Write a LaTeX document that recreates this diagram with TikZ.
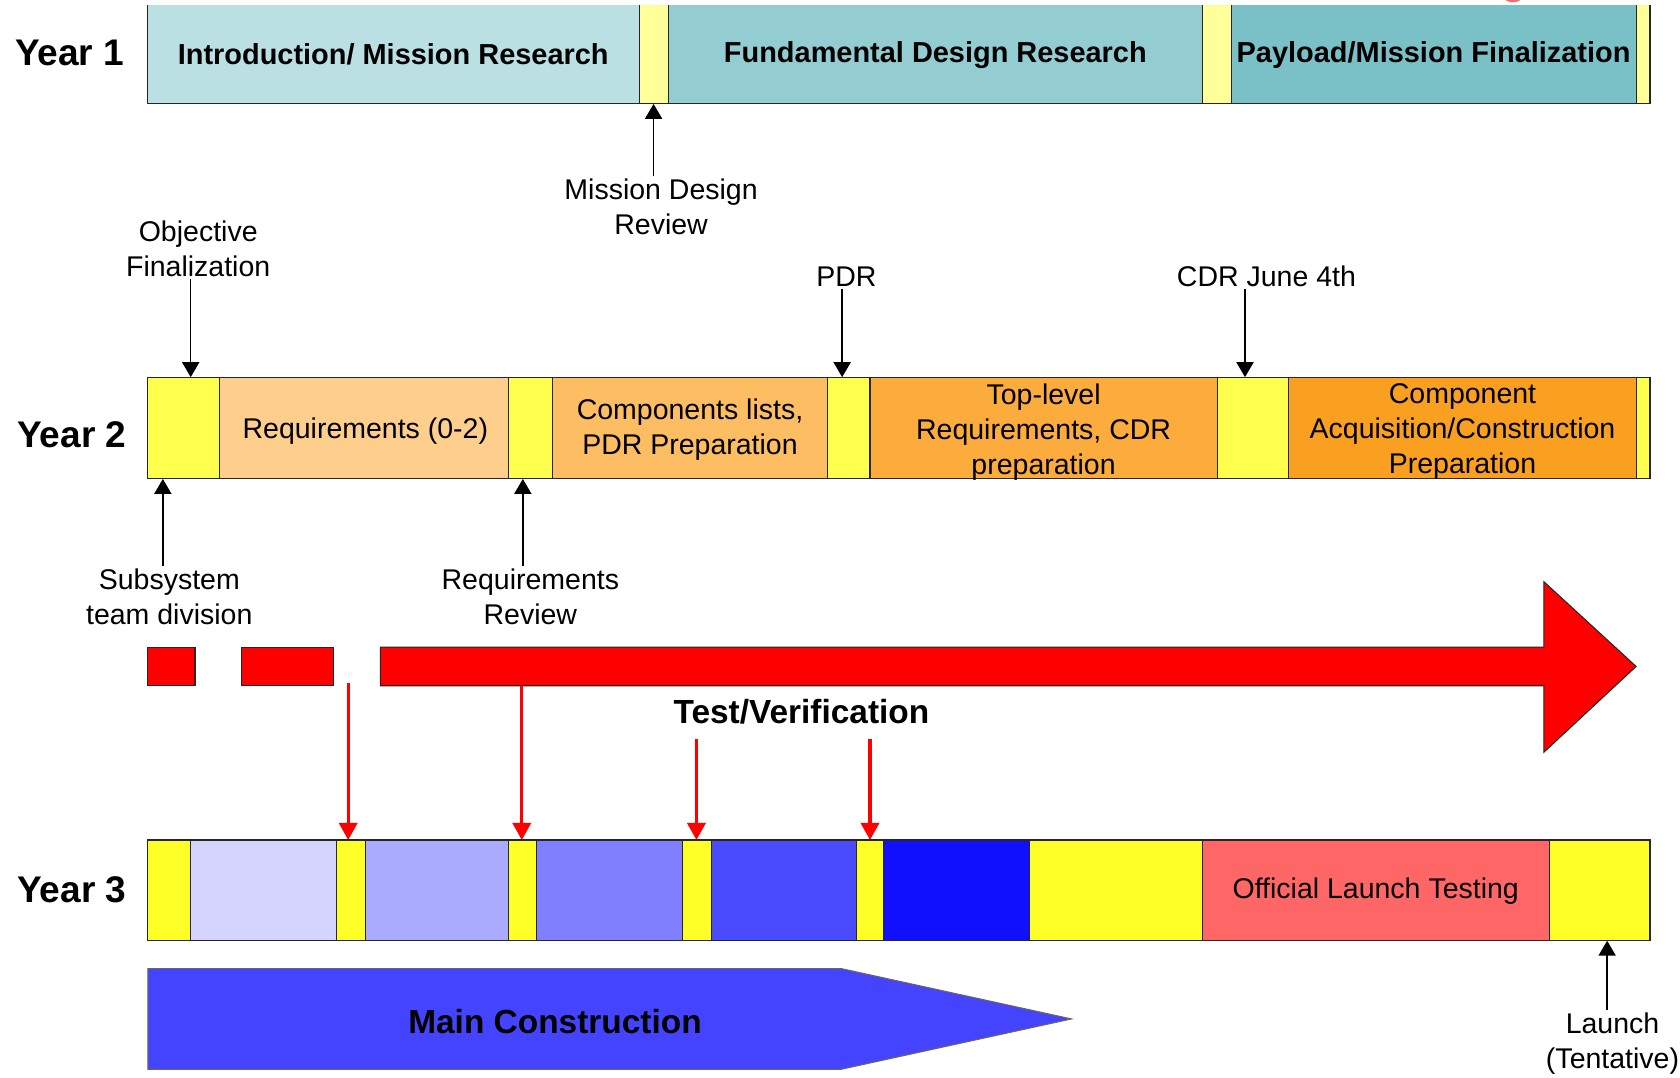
\documentclass[tikz,border=0pt]{standalone}
\usepackage{fontspec}
\setmainfont{Liberation Sans}
\usetikzlibrary{arrows.meta,positioning}
\definecolor{introcol}{RGB}{187,224,227}
\definecolor{fundcol}{RGB}{147,205,209}
\definecolor{paycol}{RGB}{122,192,199}
\definecolor{paleyel}{RGB}{255,255,153}
\definecolor{yeltwo}{RGB}{255,255,77}
\definecolor{reqcol}{RGB}{254,206,140}
\definecolor{compcol}{RGB}{253,189,98}
\definecolor{topcol}{RGB}{252,172,60}
\definecolor{acqcol}{RGB}{250,160,32}
\definecolor{yelthree}{RGB}{255,255,40}
\definecolor{blueA}{RGB}{212,212,255}
\definecolor{blueB}{RGB}{170,170,255}
\definecolor{blueC}{RGB}{128,128,255}
\definecolor{blueD}{RGB}{74,74,255}
\definecolor{blueE}{RGB}{16,16,255}
\definecolor{launchcol}{RGB}{255,102,102}
\definecolor{maincol}{RGB}{68,68,255}
\tikzset{
  bar/.style={draw=black!85,line width=0.5pt},
  lbl/.style={font=\fontsize{13.3}{16.3}\selectfont,align=center,inner sep=1pt},
  boldlbl/.style={font=\fontsize{13.5}{16}\selectfont\bfseries,inner sep=1pt},
  yearlbl/.style={font=\fontsize{17.3}{20}\selectfont\bfseries,inner sep=1pt},
  biglbl/.style={font=\fontsize{15.6}{18}\selectfont\bfseries,inner sep=1pt},
  milestone/.style={-{Triangle[length=7pt,width=8pt]},line width=0.7pt},
  testarrow/.style={-{Triangle[length=8pt,width=8.5pt]},line width=1.5pt,red},
}
\begin{document}
\begin{tikzpicture}[x=0.5pt,y=-0.5pt]
\useasboundingbox (0,0) rectangle (1568,1006);
% year 1 (top of the bar is cut off)
\node[yearlbl] (yearone) at (65,49) {Year 1};
\begin{scope}
\clip (0,4.7) rectangle (1568,1006);
\draw[bar,fill=introcol] (138,-10) rectangle (597,97);
\draw[bar,fill=paleyel] (597,-10) rectangle (624,97);
\draw[bar,fill=fundcol] (624,-10) rectangle (1122,97);
\draw[bar,fill=paleyel] (1122,-10) rectangle (1149,97);
\draw[bar,fill=paycol] (1149,-10) rectangle (1527,97);
\draw[bar,fill=paleyel] (1527,-10) rectangle (1540,97);
\end{scope}
\begin{scope}
\clip (0,0) rectangle (1568,1006);
\fill[red!60] (1412,-2) ellipse (8 and 4);
\end{scope}
\node[boldlbl] (intro) at (367,51) {Introduction/ Mission Research};
\node[boldlbl] (fund) at (873,51) {Fundamental Design Research};
\node[boldlbl] (payload) at (1338,51) {Payload/Mission Finalization};
\coordinate (mdr) at (610,97);
\node[lbl] (mdrlbl) at (617,193) {Mission Design\\Review};
\draw[milestone] (mdrlbl.north -| mdr) -- (mdr);
% year 2
\node[yearlbl] (yeartwo) at (67,406) {Year 2};
\draw[bar,fill=yeltwo] (138,352) rectangle (205,447);
\draw[bar,fill=reqcol] (205,352) rectangle (475,447);
\draw[bar,fill=yeltwo] (475,352) rectangle (516,447);
\draw[bar,fill=compcol] (516,352) rectangle (772,447);
\draw[bar,fill=yeltwo] (772,352) rectangle (812,447);
\draw[bar,fill=topcol] (812,352) rectangle (1136,447);
\draw[bar,fill=yeltwo] (1136,352) rectangle (1203,447);
\draw[bar,fill=acqcol] (1203,352) rectangle (1527,447);
\draw[bar,fill=yeltwo] (1527,352) rectangle (1540,447);
\node[lbl] (req) at (341,402) {Requirements (0-2)};
\node[lbl] (comp) at (644,401) {Components lists,\\PDR Preparation};
\node[lbl] (toplvl) at (974,403) {Top-level\\Requirements, CDR\\preparation};
\node[lbl] (acq) at (1365,403) {Component\\Acquisition/Construction\\Preparation};
\coordinate (objpt) at (178,352);
\coordinate (pdrpt) at (786,352);
\coordinate (cdrpt) at (1162,352);
\coordinate (subpt) at (152,447);
\coordinate (rrpt) at (488,447);
\node[lbl] (objlbl) at (185,232) {Objective\\Finalization};
\node[lbl] (pdrlbl) at (790,258) {PDR};
\node[lbl] (cdrlbl) at (1182,258) {CDR June 4th};
\node[lbl] (sublbl) at (158,557) {Subsystem\\team division};
\node[lbl] (rrlbl) at (495,557) {Requirements\\Review};
\draw[milestone] (objlbl.south -| objpt) -- (objpt);
\draw[milestone] (pdrlbl.south -| pdrpt) -- (pdrpt);
\draw[milestone] (cdrlbl.south -| cdrpt) -- (cdrpt);
\draw[milestone] (sublbl.north -| subpt) -- (subpt);
\draw[milestone] (rrlbl.north -| rrpt) -- (rrpt);
% test / verification
\draw[bar,fill=red] (138,604) rectangle (182,640);
\draw[bar,fill=red] (225,604) rectangle (311,640);
\draw[bar,fill=red] (355,604) -- (1441,604) -- (1441,543) -- (1527,622)
  -- (1441,702) -- (1441,640) -- (355,640) -- cycle;
\node[biglbl] (test) at (748,664) {Test/Verification};
\foreach \x/\s [count=\i] in {325/637,487/640,650/690,812/690} {
  \coordinate (ts\i) at (\x,\s);
  \coordinate (te\i) at (\x,784);
  \draw[testarrow] (ts\i) -- (te\i);
}
% year 3
\node[yearlbl] (yearthree) at (67,830) {Year 3};
\draw[bar,fill=yelthree] (138,784) rectangle (178,878);
\draw[bar,fill=blueA] (178,784) rectangle (314,878);
\draw[bar,fill=yelthree] (314,784) rectangle (341,878);
\draw[bar,fill=blueB] (341,784) rectangle (475,878);
\draw[bar,fill=yelthree] (475,784) rectangle (501,878);
\draw[bar,fill=blueC] (501,784) rectangle (637,878);
\draw[bar,fill=yelthree] (637,784) rectangle (664,878);
\draw[bar,fill=blueD] (664,784) rectangle (799,878);
\draw[bar,fill=yelthree] (799,784) rectangle (825,878);
\draw[bar,fill=blueE] (825,784) rectangle (961,878);
\draw[bar,fill=yelthree] (961,784) rectangle (1122,878);
\draw[bar,fill=launchcol] (1122,784) rectangle (1446,878);
\draw[bar,fill=yelthree] (1446,784) rectangle (1540,878);
\node[lbl] (official) at (1284,832) {Official Launch Testing};
\coordinate (launchpt) at (1500,878);
\node[lbl,anchor=north] (launchlbl) at (1505,943) {Launch\\(Tentative)};
\draw[milestone] (launchlbl.north -| launchpt) -- (launchpt);
\draw[bar,draw=black!60,fill=maincol] (138,904) -- (785,904) -- (1000,951)
  -- (785,998) -- (138,998) -- cycle;
\node[biglbl] (mainc) at (518,953) {Main Construction};
\end{tikzpicture}
\end{document}
